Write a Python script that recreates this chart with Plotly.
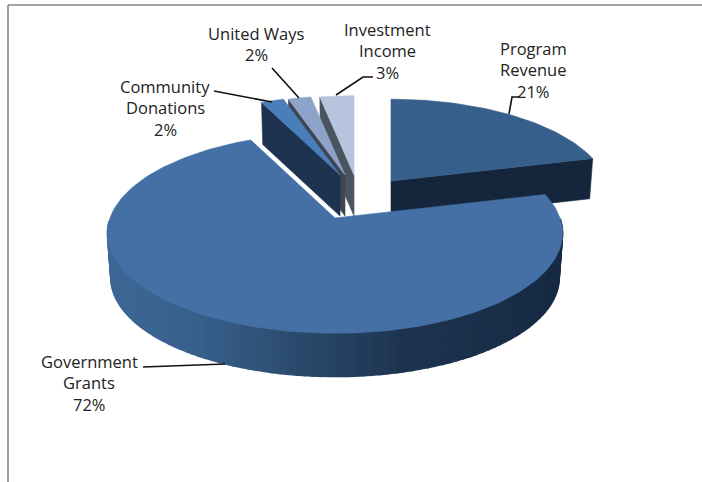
import math
import plotly.graph_objects as go

categories = ["Program Revenue", "Government Grants", "Community Donations", "United Ways", "Investment Income"]
values = [21, 72, 2, 2, 3]
label_lines = [["Program", "Revenue"], ["Government", "Grants"], ["Community", "Donations"], ["United Ways"], ["Investment", "Income"]]

# Projection of the tilted disc onto the page (pixels)
RX, RY, PERSP = 225, 98, 0.15
apex = [(391, 181), (335, 218), (340, 175), (345, 175), (354, 175)]
scale = [0.96, 1.0, 0.93, 0.93, 0.93]
depth = [40, 45, 41, 41, 41]
bottom_scale = 0.985
top_col = ["#375f8c", "#4470a6", "#4a7ebb", "#8ea3c9", "#b7c4dd"]
side_col = ["#15263c", None, "#1d3350", "#3f4652", "#4a545f"]
label_pos = [(533, 48), (89, 361), (165, 86), (256, 33), (387, 29)]
LINE_H = 21.7
leaders = [
    [(509, 114), (512, 97), (520, 97)],
    [(143, 367), (225, 364)],
    [(214, 91), (272, 102)],
    [(272, 68), (299, 98)],
    [(336, 95), (363, 77), (373, 77)],
]
grad_stops = [(107, (62, 104, 150)), (200, (56, 96, 140)), (300, (42, 74, 108)),
              (400, (30, 53, 81)), (561, (23, 42, 68))]


def project(i, t, s=1.0, z=0.0):
    X, Y = math.sin(t), math.cos(t)
    f = 1 + PERSP * Y
    ax, ay = apex[i]
    k = scale[i] * s
    return ax + k * RX * X / f, ay - k * RY * Y / f + z


def lerp_col(x):
    for (x0, c0), (x1, c1) in zip(grad_stops, grad_stops[1:]):
        if x <= x1:
            u = max(0, (x - x0) / (x1 - x0))
            return "rgb(%d,%d,%d)" % tuple(a + (b - a) * u for a, b in zip(c0, c1))
    return "rgb(%d,%d,%d)" % grad_stops[-1][1]


total = sum(values)
spans = []
acc = 0
for v in values:
    spans.append((2 * math.pi * acc / total, 2 * math.pi * (acc + v) / total))
    acc += v


def poly(pts, col, lw=0.6):
    xs, ys = zip(*pts)
    return go.Scatter(x=list(xs) + [xs[0]], y=list(ys) + [ys[0]], mode="lines", fill="toself",
                      fillcolor=col, line=dict(color=col, width=lw), hoverinfo="skip", showlegend=False)


def top(i):
    t0, t1 = spans[i]
    n = max(4, int((t1 - t0) * 40))
    arc = [project(i, t0 + (t1 - t0) * j / n) for j in range(n + 1)]
    return poly([apex[i]] + arc, top_col[i])


def radial_face(i, t):
    ax, ay = apex[i]
    a = project(i, t)
    b = project(i, t, bottom_scale, depth[i])
    return poly([(ax, ay), a, b, (ax, ay + depth[i])], side_col[i])


traces = []
# Program Revenue: end face faces the viewer
traces.append(radial_face(0, spans[0][1]))
traces.append(top(0))
# Small slices, back to front
for i in (4, 3, 2):
    traces.append(radial_face(i, spans[i][0]))
    traces.append(top(i))
# Government Grants: rim as gradient strips, then top
i = 1
t0, t1 = spans[i]
N = 140
for j in range(N):
    a0 = t0 + (t1 - t0) * j / N
    a1 = t0 + (t1 - t0) * (j + 1) / N
    if math.cos((a0 + a1) / 2) > -0.02:
        continue
    p0, p1 = project(i, a0), project(i, a1)
    q1, q0 = project(i, a1, bottom_scale, depth[i]), project(i, a0, bottom_scale, depth[i])
    traces.append(poly([p0, p1, q1, q0], lerp_col((p0[0] + p1[0]) / 2), lw=1.5))
traces.append(top(1))

# Leader lines
for pts in leaders:
    xs, ys = zip(*pts)
    traces.append(go.Scatter(x=xs, y=ys, mode="lines", line=dict(color="#111111", width=1.6),
                             hoverinfo="skip", showlegend=False))

fig = go.Figure(traces)

# Labels
for i, lines in enumerate(label_lines):
    x, y = label_pos[i]
    for j, txt in enumerate(lines + [f"{values[i]}%"]):
        fig.add_annotation(x=x, y=y + j * LINE_H, text=txt, showarrow=False, xanchor="center", yanchor="middle",
                           font=dict(family="Open Sans", size=16.5, color="#222222"))

# Chart-area frame
fig.add_shape(type="line", x0=8, y0=482, x1=8, y1=5, line=dict(color="#868686", width=1.6))
fig.add_shape(type="line", x0=8, y0=5, x1=702, y1=5, line=dict(color="#868686", width=1.6))

fig.update_layout(width=702, height=482, margin=dict(l=0, r=0, t=0, b=0), paper_bgcolor="white",
                  plot_bgcolor="white", showlegend=False,
                  xaxis=dict(range=[0, 702], visible=False, fixedrange=True),
                  yaxis=dict(range=[482, 0], visible=False, fixedrange=True))
fig.write_html("out.html", config={"displayModeBar": False},
               post_script="document.body.style.margin='0';document.documentElement.style.overflow='hidden';")
